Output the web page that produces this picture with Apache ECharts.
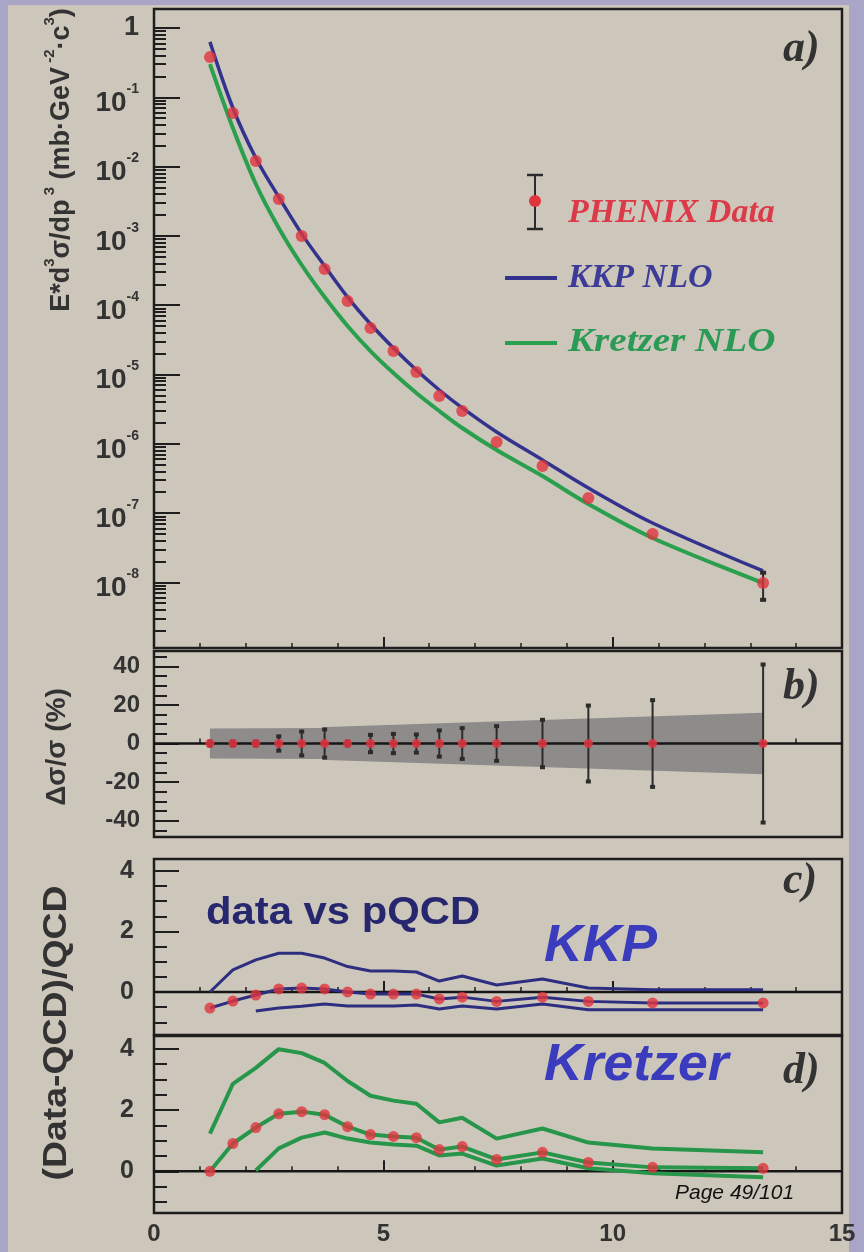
<!DOCTYPE html>
<html>
<head>
<meta charset="utf-8">
<script src="https://cdn.jsdelivr.net/npm/echarts@6/dist/echarts.min.js"></script>
<style>
  html, body { margin: 0; padding: 0; background: #a8a5c6; }
  #chart { width: 864px; height: 1252px; }
</style>
</head>
<body>
<div id="chart"></div>
<script>
// pi0 transverse momentum bins (GeV/c)
const ptBins = [1.22, 1.72, 2.22, 2.72, 3.22, 3.72, 4.22, 4.72, 5.22, 5.72, 6.22, 6.72, 7.47, 8.47, 9.47, 10.87, 13.28];

// a) invariant cross section (mb GeV^-2 c^3)
const phenixYield = [0.38, 0.0593, 0.0120, 0.00341, 9.97e-4, 3.33e-4, 1.15e-4, 4.69e-5, 2.18e-5, 1.09e-5, 4.90e-6, 2.97e-6, 1.06e-6, 4.78e-7, 1.65e-7, 4.99e-8, 9.8e-9];
const kkpNLO = [0.63, 0.0701, 0.0133, 0.00364, 0.00107, 3.68e-4, 1.31e-4, 5.36e-5, 2.41e-5, 1.16e-5, 5.97e-6, 3.29e-6, 1.48e-6, 5.84e-7, 2.30e-7, 7.19e-8, 1.46e-8];
const kretzerNLO = [0.302, 0.0361, 0.00561, 0.00130, 3.80e-4, 1.31e-4, 5.01e-5, 2.18e-5, 1.05e-5, 5.41e-6, 2.97e-6, 1.69e-6, 8.14e-7, 3.43e-7, 1.35e-7, 4.37e-8, 9.80e-9];
// visible error bar on the highest-pT point
const yieldErrX = [13.28];
const yieldErrLow = [5.6e-9];
const yieldErrHigh = [1.38e-8];

// b) point-to-point errors (%) and normalisation band half-width (%)
const statErr = [1.0, 1.0, 1.0, 3.7, 6.2, 7.3, 1.0, 4.5, 5.0, 4.7, 6.8, 8.0, 9.0, 12.3, 19.7, 22.5, 41.0];
const sysBandX = [1.22, 3.65, 3.75, 13.28];
const sysBandHalf = [7.8, 8.0, 8.6, 16.0];

// c) (Data-QCD)/QCD against KKP, with scale-variation curves
const kkpRatio = [-0.53, -0.30, -0.10, 0.10, 0.13, 0.10, 0.0, -0.07, -0.07, -0.07, -0.23, -0.17, -0.31, -0.17, -0.31, -0.36, -0.36];
const kkpUpper = [0.0, 0.73, 1.06, 1.28, 1.28, 1.12, 0.84, 0.69, 0.69, 0.66, 0.36, 0.53, 0.23, 0.43, 0.13, 0.07, 0.07];
const kkpLower = [null, null, -0.63, -0.53, -0.47, -0.40, -0.46, -0.46, -0.46, -0.43, -0.56, -0.46, -0.56, -0.40, -0.59, -0.59, -0.59];

// d) (Data-QCD)/QCD against Kretzer
const kretzerRatio = [0.0, 0.91, 1.43, 1.88, 1.95, 1.85, 1.46, 1.20, 1.14, 1.10, 0.71, 0.81, 0.39, 0.62, 0.29, 0.13, 0.10];
const kretzerUpper = [1.23, 2.86, 3.38, 3.99, 3.86, 3.54, 2.95, 2.47, 2.31, 2.21, 1.60, 1.75, 1.07, 1.40, 0.94, 0.75, 0.62];
const kretzerLower = [null, null, 0.03, 0.75, 1.10, 1.27, 1.07, 0.94, 0.88, 0.84, 0.52, 0.58, 0.19, 0.42, 0.10, -0.06, -0.19];

// tick labels
const ptTicks = [0, 5, 10, 15];
const yieldTicks = [1, 1e-1, 1e-2, 1e-3, 1e-4, 1e-5, 1e-6, 1e-7, 1e-8];
const deltaTicks = [40, 20, 0, -20, -40];
const ratioTicks = [4, 2, 0];

// ---- colours & fonts ----
const RED = '#e0343f';
const NAVY = '#33338d';
const GREEN = '#2a9f4d';
const INK = '#333333';
const SANS = '"Liberation Sans", Arial, sans-serif';
const SERIF = '"Liberation Serif", "Times New Roman", serif';

// minor tick positions
const logMinor = [];
for (let e = -9; e <= 0; e++) for (let k = 2; k <= 9; k++) logMinor.push(k * Math.pow(10, e));
const deltaMinor = [];
for (let v = -45; v <= 45; v += 5) deltaMinor.push(v);
const ratioMinor = [];
for (let v = -1; v <= 4; v += 0.5) ratioMinor.push(v);

const pairs = (ys) => ptBins.map((x, i) => (ys[i] == null ? null : [x, ys[i]])).filter(Boolean);

const FRAME = '#1e1e1e';
const grids = [
  { left: 154, top: 9, width: 688, height: 639 },
  { left: 154, top: 651, width: 688, height: 186 },
  { left: 154, top: 859, width: 688, height: 176 },
  { left: 154, top: 1036, width: 688, height: 177 }
].map(g => Object.assign(g, {
  show: true, borderColor: FRAME, borderWidth: 2.5, backgroundColor: 'transparent',
  containLabel: false, outerBoundsMode: 'none'
}));

const xAxes = [0, 1, 2, 3].map(i => ({
  gridIndex: i, type: 'value', min: 0, max: 15, interval: 5,
  axisLine: { show: false }, splitLine: { show: false },
  axisTick: { show: true, inside: true, length: 11, lineStyle: { color: FRAME, width: 2 } },
  minorTick: { show: true, splitNumber: 5, length: 5, lineStyle: { color: FRAME, width: 1.5 } },
  axisLabel: {
    show: i === 3, margin: 9, color: INK, fontSize: 24, fontWeight: 'bold', fontFamily: SANS,
    customValues: ptTicks
  }
}));

function valueAxes(grid, min, max, majors, minors, labelSize, margin) {
  return [
    {
      gridIndex: grid, type: 'value', min: min, max: max, position: 'left',
      axisLine: { show: false }, splitLine: { show: false },
      axisTick: { show: true, inside: true, length: 25, lineStyle: { color: FRAME, width: 2 }, customValues: majors },
      axisLabel: { customValues: majors, margin: margin, color: INK, fontSize: labelSize, fontWeight: 'bold', fontFamily: SANS }
    },
    {
      gridIndex: grid, type: 'value', min: min, max: max, position: 'left',
      axisLine: { show: false }, splitLine: { show: false },
      axisTick: { show: true, inside: true, length: 13, lineStyle: { color: FRAME, width: 2 }, customValues: minors },
      axisLabel: { show: false }
    }
  ];
}

const yAxes = [
  {
    gridIndex: 0, type: 'log', logBase: 10, min: 1.13e-9, max: 1.88, position: 'left',
    axisLine: { show: false }, splitLine: { show: false },
    axisTick: { show: true, inside: true, length: 26, lineStyle: { color: FRAME, width: 2 }, customValues: yieldTicks },
    axisLabel: {
      customValues: yieldTicks, margin: 15,
      formatter: (v) => {
        const e = Math.round(Math.log10(v));
        return e === 0 ? '{one|1}' : '{n|10}{e|' + e + '}';
      },
      rich: {
        one: { fontSize: 27, fontWeight: 'bold', color: INK, fontFamily: SANS, lineHeight: 30 },
        n: { fontSize: 28, fontWeight: 'bold', color: INK, fontFamily: SANS, lineHeight: 30, padding: [12, 0, 0, 0] },
        e: { fontSize: 14, fontWeight: 'bold', color: INK, fontFamily: SANS, lineHeight: 14, verticalAlign: 'top' }
      }
    }
  },
  {
    gridIndex: 0, type: 'log', logBase: 10, min: 1.13e-9, max: 1.88, position: 'left',
    axisLine: { show: false }, splitLine: { show: false },
    axisTick: { show: true, inside: true, length: 12, lineStyle: { color: FRAME, width: 2 }, customValues: logMinor },
    axisLabel: { show: false }
  }
]
  .concat(valueAxes(1, -48.5, 48, deltaTicks, deltaMinor, 24, 14))
  .concat(valueAxes(2, -1.42, 4.39, ratioTicks, ratioMinor, 25, 20))
  .concat(valueAxes(3, -1.36, 4.42, ratioTicks, ratioMinor, 25, 20));

// vertical error bar with small caps
function errorBarRender(lineW, capW, capH) {
  return function (params, api) {
    const x = api.value(0);
    const pHi = api.coord([x, api.value(2)]);
    const pLo = api.coord([x, api.value(1)]);
    return {
      type: 'group',
      children: [
        { type: 'line', shape: { x1: pHi[0], y1: pHi[1], x2: pLo[0], y2: pLo[1] }, style: { stroke: '#2b2b2b', lineWidth: lineW } },
        { type: 'rect', shape: { x: pHi[0] - capW / 2, y: pHi[1] - capH / 2, width: capW, height: capH }, style: { fill: '#2b2b2b' } },
        { type: 'rect', shape: { x: pLo[0] - capW / 2, y: pLo[1] - capH / 2, width: capW, height: capH }, style: { fill: '#2b2b2b' } }
      ]
    };
  };
}

function zeroLine(xi, yi) {
  return {
    type: 'line', xAxisIndex: xi, yAxisIndex: yi, data: [[0, 0], [15, 0]],
    symbol: 'none', lineStyle: { color: '#161616', width: 2.5 }, z: 3, silent: true
  };
}

function ratioLine(xi, yi, ys, color, width) {
  return {
    type: 'line', xAxisIndex: xi, yAxisIndex: yi, data: pairs(ys),
    symbol: 'none', lineStyle: { color: color, width: width }, z: 4
  };
}

const series = [
  // ---- a) spectrum ----
  { type: 'line', name: 'KKP NLO', xAxisIndex: 0, yAxisIndex: 0, data: pairs(kkpNLO), smooth: 0.35,
    symbol: 'none', lineStyle: { color: NAVY, width: 3.5 }, z: 4 },
  { type: 'line', name: 'Kretzer NLO', xAxisIndex: 0, yAxisIndex: 0, data: pairs(kretzerNLO), smooth: 0.35,
    symbol: 'none', lineStyle: { color: GREEN, width: 4 }, z: 4 },
  { type: 'custom', xAxisIndex: 0, yAxisIndex: 0, z: 5,
    data: yieldErrX.map((x, i) => [x, yieldErrLow[i], yieldErrHigh[i]]),
    encode: { x: 0, y: [1, 2] }, renderItem: errorBarRender(2, 6, 4) },
  { type: 'scatter', name: 'PHENIX Data', xAxisIndex: 0, yAxisIndex: 0, data: pairs(phenixYield),
    symbolSize: 12, itemStyle: { color: RED }, z: 6 },

  // ---- b) relative errors ----
  { type: 'custom', xAxisIndex: 1, yAxisIndex: 2, z: 2, data: [[sysBandX[0], 0]], encode: { x: 0, y: 1 },
    renderItem: (params, api) => {
      const top = sysBandX.map((x, i) => api.coord([x, sysBandHalf[i]]));
      const bot = sysBandX.map((x, i) => api.coord([x, -sysBandHalf[i]])).reverse();
      return { type: 'polygon', shape: { points: top.concat(bot) }, style: { fill: '#8d8c8a' } };
    } },
  zeroLine(1, 2),
  { type: 'custom', xAxisIndex: 1, yAxisIndex: 2, z: 5,
    data: ptBins.map((x, i) => [x, -statErr[i], statErr[i]]),
    encode: { x: 0, y: [1, 2] }, renderItem: errorBarRender(2, 5, 4) },
  { type: 'scatter', xAxisIndex: 1, yAxisIndex: 2, data: ptBins.map(x => [x, 0]),
    symbolSize: 9, itemStyle: { color: RED, opacity: 0.85 }, z: 6 },

  // ---- c) vs KKP ----
  zeroLine(2, 4),
  ratioLine(2, 4, kkpUpper, '#2e2e80', 3),
  ratioLine(2, 4, kkpRatio, '#2e2e80', 3),
  ratioLine(2, 4, kkpLower, '#2e2e80', 3),
  { type: 'scatter', xAxisIndex: 2, yAxisIndex: 4, data: pairs(kkpRatio),
    symbolSize: 11, itemStyle: { color: RED }, z: 6 },

  // ---- d) vs Kretzer ----
  zeroLine(3, 6),
  ratioLine(3, 6, kretzerUpper, '#27954a', 4),
  ratioLine(3, 6, kretzerRatio, '#27954a', 4),
  ratioLine(3, 6, kretzerLower, '#27954a', 4),
  { type: 'scatter', xAxisIndex: 3, yAxisIndex: 6, data: pairs(kretzerRatio),
    symbolSize: 11, itemStyle: { color: RED }, z: 6 }
];

const txt = (x, y, text, font, fill, extra) => Object.assign({
  type: 'text', x: x, y: y, z: 20,
  style: { text: text, font: font, fill: fill, align: 'left', verticalAlign: 'middle' }
}, extra || {});

const graphic = [
  // page background
  { type: 'rect', z: -10, silent: true, shape: { x: 8, y: 5, width: 841, height: 1247 }, style: { fill: '#cdc7bb' } },

  // axis titles
  { type: 'text', x: 57, y: 160, rotation: Math.PI / 2, z: 20,
    style: {
      text: '{m|E*d}{s|3}{m|σ/dp}{s| 3}{m| (mb·GeV}{s| -2}{m|·c}{s|3}{m|)}',
      align: 'center', verticalAlign: 'middle',
      rich: {
        m: { font: 'bold 27px ' + SANS, fill: INK, lineHeight: 30, padding: [10, 0, 0, 0] },
        s: { font: 'bold 15px ' + SANS, fill: INK, lineHeight: 15, verticalAlign: 'top' }
      }
    } },
  { type: 'text', x: 57, y: 747, rotation: Math.PI / 2, z: 20,
    style: { text: 'Δσ/σ (%)', font: 'bold 28px ' + SANS, fill: INK, align: 'center', verticalAlign: 'middle' } },
  { type: 'text', x: 57, y: 1033, rotation: Math.PI / 2, scaleX: 1.1, z: 20,
    style: { text: '(Data-QCD)/QCD', font: 'bold 34px ' + SANS, fill: INK, align: 'center', verticalAlign: 'middle' } },

  // panel letters
  txt(783, 50, 'a)', 'italic bold 44px ' + SERIF, INK),
  txt(783, 688, 'b)', 'italic bold 44px ' + SERIF, INK),
  txt(783, 882, 'c)', 'italic bold 44px ' + SERIF, INK),
  txt(783, 1072, 'd)', 'italic bold 44px ' + SERIF, INK),

  // legend
  { type: 'line', z: 20, shape: { x1: 535, y1: 175, x2: 535, y2: 229 }, style: { stroke: '#2b2b2b', lineWidth: 2 } },
  { type: 'line', z: 20, shape: { x1: 527, y1: 175, x2: 543, y2: 175 }, style: { stroke: '#2b2b2b', lineWidth: 2.5 } },
  { type: 'line', z: 20, shape: { x1: 527, y1: 229, x2: 543, y2: 229 }, style: { stroke: '#2b2b2b', lineWidth: 2.5 } },
  { type: 'circle', z: 21, shape: { cx: 535, cy: 201, r: 6 }, style: { fill: RED } },
  txt(568, 213, 'PHENIX Data', 'italic bold 34px ' + SERIF, '#dc3a48'),
  { type: 'line', z: 20, shape: { x1: 505, y1: 278, x2: 557, y2: 278 }, style: { stroke: NAVY, lineWidth: 4 } },
  txt(568, 278, 'KKP NLO', 'italic bold 34px ' + SERIF, '#3c3c98'),
  { type: 'line', z: 20, shape: { x1: 505, y1: 343, x2: 557, y2: 343 }, style: { stroke: GREEN, lineWidth: 4 } },
  txt(568, 342, 'Kretzer NLO', 'italic bold 34px ' + SERIF, '#2b9a55', { scaleX: 1.15 }),

  // panel annotations
  txt(206, 914, 'data vs pQCD', 'bold 38px ' + SANS, '#27276f', { scaleX: 1.1 }),
  txt(544, 947, 'KKP', 'italic bold 52px ' + SANS, '#3b3bbd', { scaleX: 1.03 }),
  txt(544, 1066, 'Kretzer', 'italic bold 52px ' + SANS, '#3b3bbd', { scaleX: 1.03 }),
  txt(675, 1193, 'Page 49/101', 'italic 21px ' + SANS, '#111111')
];

const chart = echarts.init(document.getElementById('chart'), null, { renderer: 'canvas', width: 864, height: 1252 });
chart.setOption({
  backgroundColor: '#a8a5c6',
  animation: false,
  textStyle: { fontFamily: SANS },
  grid: grids,
  xAxis: xAxes,
  yAxis: yAxes,
  series: series,
  graphic: graphic
});
</script>
</body>
</html>
